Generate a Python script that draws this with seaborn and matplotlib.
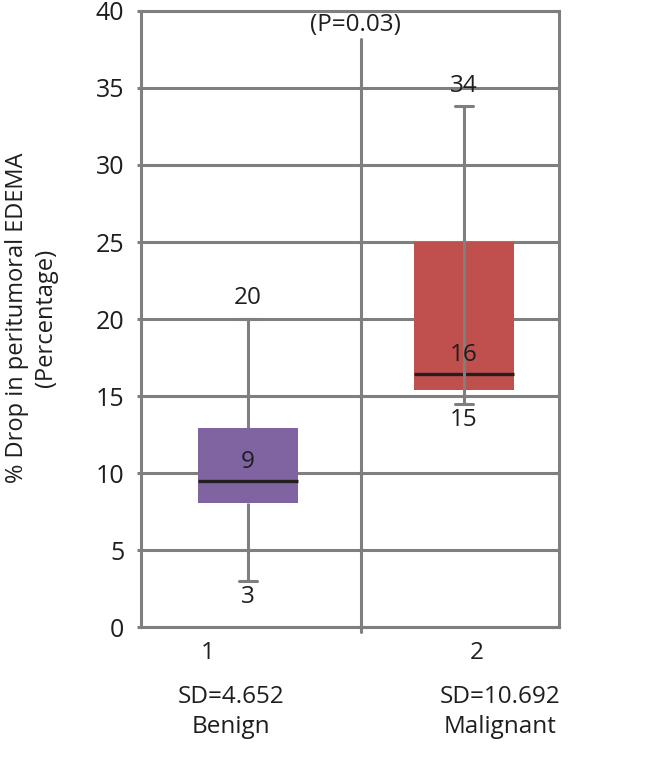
import numpy as np
import pandas as pd
import matplotlib
matplotlib.use("Agg")
import matplotlib.pyplot as plt
import seaborn as sns

# ---- data ----
groups = ["Benign", "Malignant"]
group_numbers = ["1", "2"]
sd_labels = ["SD=4.652", "SD=10.692"]
# whisker low, Q1, median, Q3, whisker high
benign_vals = [3.0, 8.05, 9.45, 12.9, 20.0]
malignant_vals = [14.5, 15.4, 16.4, 25.0, 33.8]
top_labels = ["20", "34"]
median_labels = ["9", "16"]
bottom_labels = ["3", "15"]
p_text = "(P=0.03)"
y_label = "% Drop in peritumoral EDEMA\n(Percentage)"
y_ticks = [0, 5, 10, 15, 20, 25, 30, 35, 40]
box_colors = ["#8064A2", "#C0504D"]

GRAY = "#7f7f7f"
TXT = "#1e1e1e"
FS = 17.5
sns.set_style("white")
plt.rcParams["font.family"] = ["Open Sans", "DejaVu Sans"]

df = pd.DataFrame({
    "group": [groups[0]] * len(benign_vals) + [groups[1]] * len(malignant_vals),
    "value": benign_vals + malignant_vals,
})

fig = plt.figure(figsize=(6.51, 7.63), dpi=100)
ax = fig.add_axes([0.2166, 0.1782, 0.6421, 0.8074])

sns.boxplot(data=df, x="group", y="value", hue="group", palette=box_colors,
            order=groups, hue_order=groups, whis=(0, 100), width=0.463,
            saturation=1, linewidth=2.2, linecolor=GRAY, legend=False, ax=ax,
            medianprops={"color": "#231f20", "linewidth": 2.4},
            capwidths=0.08)

for p in ax.patches:
    p.set_edgecolor("none")

# gray line visible through the malignant box
stats2 = malignant_vals
ax.plot([1, 1], [stats2[1], stats2[3]], color=GRAY, lw=2.2, zorder=3)

ax.set_xlim(-0.495, 1.44)
ax.set_ylim(0, 40)
ax.set_yticks(y_ticks)
ax.set_xticks([])
ax.set_xlabel("")
ax.set_ylabel(y_label, fontsize=17, linespacing=1.25, color=TXT)
ax.yaxis.label.set_va("center")
ax.yaxis.set_label_coords(-0.262, 0.502)
ax.yaxis.grid(True, color=GRAY, lw=2.2)
ax.set_axisbelow(True)
for s in ax.spines.values():
    s.set_color(GRAY)
    s.set_linewidth(2.2)
ax.tick_params(axis="y", left=True, length=3, width=2.2, color=GRAY,
               pad=9, labelsize=18, labelcolor=TXT)

# value labels
for i, vals in enumerate([benign_vals, malignant_vals]):
    ax.annotate(top_labels[i], (i, vals[4]), xytext=(0, 15), textcoords="offset points",
                ha="center", va="center", fontsize=FS, color=TXT)
    ax.annotate(median_labels[i], (i, vals[2]), xytext=(0, 14), textcoords="offset points",
                ha="center", va="center", fontsize=FS, color=TXT)
    ax.annotate(bottom_labels[i], (i, vals[0]), xytext=(0, -12), textcoords="offset points",
                ha="center", va="center", fontsize=FS, color=TXT)

# divider line and p-value
ax.plot([0.526, 0.526], [-0.008, 0.955], transform=ax.transAxes, color=GRAY,
        lw=2.2, clip_on=False, zorder=1)
ax.text(0.512, 0.977, p_text, transform=ax.transAxes, ha="center", va="center",
        fontsize=FS, color=TXT)

# category texts under the axis
num_x = [0.160, 0.804]
sd_x = [0.215, 0.859]
for i in range(2):
    ax.text(num_x[i], -0.042, group_numbers[i], transform=ax.transAxes,
            ha="center", va="center", fontsize=FS, color=TXT)
    ax.text(sd_x[i], -0.114, sd_labels[i], transform=ax.transAxes,
            ha="center", va="center", fontsize=FS, color=TXT)
    ax.text(sd_x[i], -0.162, groups[i], transform=ax.transAxes,
            ha="center", va="center", fontsize=FS, color=TXT)

fig.savefig("out.png", dpi=100)
